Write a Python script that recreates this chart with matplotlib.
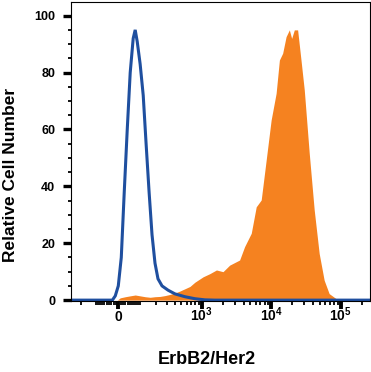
import numpy as np
import matplotlib
matplotlib.use('Agg')
import matplotlib.pyplot as plt
from matplotlib.ticker import MultipleLocator, FixedLocator

plt.rcParams['font.family'] = ['Liberation Sans', 'DejaVu Sans']
plt.rcParams['font.weight'] = 'bold'
plt.rcParams['mathtext.fontset'] = 'custom'
plt.rcParams['mathtext.rm'] = 'Liberation Sans:bold'
plt.rcParams['mathtext.bf'] = 'Liberation Sans:bold'

# isotype control (blue outline)
blue_x = [-290, -25, -12.6, 0, 12.6, 25.2, 38.2, 51.4, 65.2, 74.8, 84.6, 100,
          117, 134, 153, 173, 195, 219, 255, 317, 404, 569, 795, 1107, 1542, 262144]
blue_y = [0, 0, 1.5, 5, 15, 38, 60, 80, 92, 95, 91, 83,
          72, 55, 38, 23, 13, 7.5, 5, 3.5, 2.2, 1.2, 0.5, 0.1, 0, 0]

# ErbB2/Her2 stained (orange filled)
orange_x = [-4, 8, 30, 51, 75, 100, 128, 160, 195, 237, 285, 340, 404, 480, 569,
            673, 795, 1047, 1307, 1630, 2026, 2526, 3511, 4140, 5161, 6083, 7172,
            8453, 9964, 11750, 13094, 14592, 16332, 18199, 19634, 21463, 23927,
            26759, 29820, 35154, 41427, 48832, 57569, 67843, 84569, 94272]
orange_y = [0, 0.8, 1.2, 1.5, 1.8, 1.5, 1.2, 1.0, 1.2, 1.3, 1.6, 2.0, 2.5, 3.2, 4.0,
            4.8, 6.3, 8.2, 9.3, 10.6, 10, 12.3, 14.1, 18.8, 23.5, 32.8, 35.2,
            49.2, 63.3, 72.7, 84.4, 86.8, 92.6, 95, 92, 95, 95,
            84.4, 73.9, 51.6, 31.7, 16.4, 7, 2.3, 0.6, 0]

major_x = [0, 1000, 10000, 100000]
major_labels = ['0', r'$\mathbf{10^{3}}$', r'$\mathbf{10^{4}}$', r'$\mathbf{10^{5}}$']
minor_x = ([-200, -100] + [-90, -80, -70, -60, -50, -40, -30, -20, -10]
           + [10, 20, 30, 40, 50, 60, 70, 80, 90]
           + [100, 200, 300, 400, 500, 600, 700, 800, 900]
           + [2000, 3000, 4000, 5000, 6000, 7000, 8000, 9000]
           + [20000, 30000, 40000, 50000, 60000, 70000, 80000, 90000, 200000])


# biexponential-like display scale
def fwd(x):
    return np.arcsinh(np.asarray(x) / 127.0) / np.log(10)


def inv(y):
    return 127.0 * np.sinh(np.asarray(y) * np.log(10))


fig = plt.figure(figsize=(3.71, 3.72), dpi=100)
ax = fig.add_axes([0.1914, 0.1909, 0.8059, 0.8037])
ax.set_xscale('function', functions=(fwd, inv))

ax.fill_between(orange_x, orange_y, 0, color='#f58220', linewidth=0)
ax.plot(blue_x, blue_y, color='#1f4f9f', linewidth=2.2, solid_joinstyle='miter')

ax.set_xlim(-290, 262144)
ax.set_ylim(-0.3, 104.8)

ax.xaxis.set_major_locator(FixedLocator(major_x))
ax.xaxis.set_minor_locator(FixedLocator(minor_x))
ax.set_xticklabels(major_labels, va='baseline')
ax.yaxis.set_major_locator(MultipleLocator(20))
ax.yaxis.set_minor_locator(MultipleLocator(5))

ax.tick_params(axis='both', which='major', direction='out', color='black')
ax.tick_params(axis='y', which='major', length=5.8, width=2.4, pad=5.5, labelsize=9)
ax.tick_params(axis='y', which='minor', length=2.2, width=1.3)
ax.tick_params(axis='x', which='major', length=6, width=2.8, pad=8.5, labelsize=10)
ax.tick_params(axis='x', which='minor', length=3, width=1.3)

for s in ax.spines.values():
    s.set_linewidth(0.8)

ax.set_xlabel('ErbB2/Her2', fontsize=13, fontweight='bold', va='center')
ax.xaxis.set_label_coords(0.455, -0.197)
ax.set_ylabel('Relative Cell Number', fontsize=12.5, fontweight='bold', va='center')
ax.yaxis.set_label_coords(-0.204, 0.421)

fig.savefig('out.png', dpi=100)
